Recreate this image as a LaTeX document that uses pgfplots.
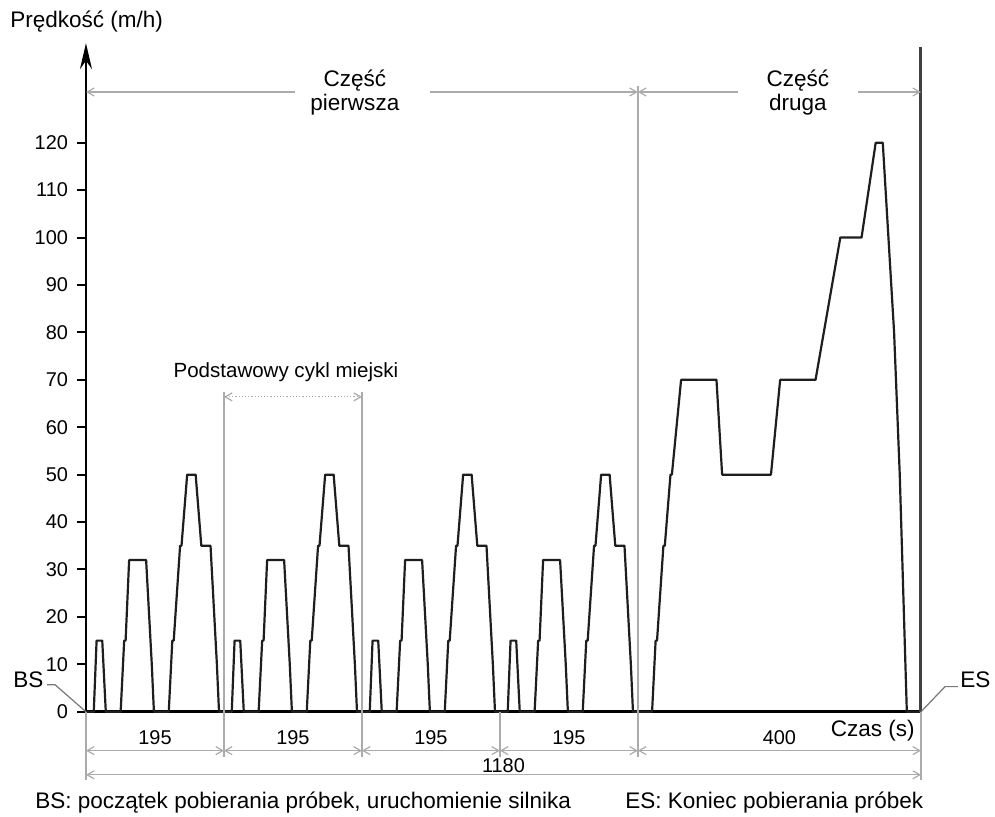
\documentclass[border=0pt]{standalone}
\usepackage{fontspec}
\setmainfont{Liberation Sans}
\usepackage{pgfplots}
\usepackage{pgfplotstable}
\pgfplotsset{compat=1.18}
\usetikzlibrary{arrows.meta}

\definecolor{dimgray}{HTML}{ABABAB}
\definecolor{curve}{HTML}{1E1E1E}
\newcommand{\txt}{\fontsize{11.3}{13.5}\selectfont}
\newcommand{\num}{\fontsize{10}{12}\selectfont}

\pgfplotstableread{
t v
0 0
11 0
15 15
23 15
28 0
49 0
54 15
56 15
61 32
85 32
93 10
96 0
117 0
122 15
124 15
133 35
135 35
143 50
155 50
163 35
176 35
185 10
188 0
195 0
}\ececycle

\tikzset{dim/.style={dimgray, line width=0.6bp},
         dimarr/.style={dim, arrows={Straight Barb[length=3.5bp,width=4bp]-Straight Barb[length=3.5bp,width=4bp]}}}

\begin{document}
\begin{tikzpicture}
\begin{axis}[
    scale only axis,
    width=417.5bp, height=334.3bp,
    xmin=0, xmax=1180,
    ymin=0, ymax=141,
    axis lines=left,
    x axis line style={-, line width=1.4bp},
    y axis line style={-{Stealth[length=13bp,width=6bp]}, line width=1.3bp},
    xtick=\empty,
    ytick={0,10,...,120},
    tick align=outside,
    major tick length=4.5bp,
    tick style={black, line width=1bp},
    yticklabel style={font=\fontsize{10}{12}\selectfont, xshift=-1bp},
    /pgf/number format/assume math mode=true,
    clip=false,
]
% ECE-15 urban cycle, four times
\pgfplotsinvokeforeach{0,195,390,585}{
  \addplot[curve, line width=1.1bp, line join=round]
    table[x expr=\thisrow{t}+#1, y=v] {\ececycle};
}
% EUDC extra-urban part
\addplot[curve, line width=1.1bp, line join=round] coordinates {
  (780,0) (800,0) (805,15) (807,15) (816,35) (818,35) (826,50) (828,50)
  (841,70) (891,70) (899,50) (968,50) (981,70) (1031,70) (1066,100)
  (1096,100) (1116,120) (1126,120) (1142,80) (1150,50) (1160,0) (1180,0)
};

% right end line
\draw[black!75, line width=1.5bp] (1180,0) -- (1180,140.2);

% page size
\path (-121.5,-22.1) rectangle (1284.6,150.1);

% axis title
\node[anchor=west, inner sep=0pt] at (-107.4,145.5) {\txt Prędkość (m/h)};

% top dimension lines
\draw[dim, arrows={Straight Barb[length=3.5bp,width=4bp]-}] (0,130.7) -- (295.4,130.7);
\draw[dim, arrows={-Straight Barb[length=3.5bp,width=4bp]}] (486.2,130.7) -- (780,130.7);
\draw[dim, arrows={Straight Barb[length=3.5bp,width=4bp]-}] (780,130.7) -- (921.4,130.7);
\draw[dim, arrows={-Straight Barb[length=3.5bp,width=4bp]}] (1091,130.7) -- (1180,130.7);
\node[align=center, inner sep=0pt, font=\txt] at (380,130.5) {Część\\[-1.5bp]pierwsza};
\node[align=center, inner sep=0pt, font=\txt] at (1006,130.5) {Część\\[-1.5bp]druga};

% vertical extension lines
\draw[dim] (780,132) -- (780,-9.5);
\draw[dim] (195,67.5) -- (195,-9.5);
\draw[dim] (390,67.5) -- (390,-9.5);
\draw[dim] (585,0) -- (585,-9.5);
\draw[dim] (0,0) -- (0,-14.3);
\draw[dim] (1180,0) -- (1180,-14.3);

% basic urban cycle bracket
\node[inner sep=0pt] at (282.6,71.7) {\fontsize{10.3}{12}\selectfont Podstawowy cykl miejski};
\draw[dimarr, densely dotted] (195,66.4) -- (390,66.4);

% bottom dimension lines
\draw[dimarr] (0,-8.2) -- (195,-8.2);
\draw[dimarr] (195,-8.2) -- (390,-8.2);
\draw[dimarr] (390,-8.2) -- (585,-8.2);
\draw[dimarr] (585,-8.2) -- (780,-8.2);
\draw[dimarr] (780,-8.2) -- (1180,-8.2);
\node[anchor=base, inner sep=0pt] at (97.5,-7.0) {\num 195};
\node[anchor=base, inner sep=0pt] at (292.5,-7.0) {\num 195};
\node[anchor=base, inner sep=0pt] at (487.5,-7.0) {\num 195};
\node[anchor=base, inner sep=0pt] at (682.5,-7.0) {\num 195};
\node[anchor=base, inner sep=0pt] at (980,-7.0) {\num 400};
\node[anchor=base east, inner sep=0pt] at (1171.6,-5.3) {\txt Czas (s)};
\draw[dimarr] (0,-13.3) -- (1180,-13.3);
\node[anchor=base, inner sep=0pt] at (590,-12.9) {\num 1180};

% BS / ES markers
\node[anchor=base west, inner sep=0pt] at (-103.2,5.1) {\txt BS};
\draw[dimgray!70!black, line width=0.6bp] (-55.1,5.7) -- (-43.8,5.7) -- (0,0);
\node[anchor=base west, inner sep=0pt] at (1235.2,5.1) {\txt ES};
\draw[dimgray!70!black, line width=0.6bp] (1180,0) -- (1214,5.3) -- (1232.3,5.3);

% captions
\node[anchor=base west, inner sep=0pt] at (-72.1,-20.5) {\txt BS: początek pobierania próbek, uruchomienie silnika};
\node[anchor=base west, inner sep=0pt] at (761.7,-20.5) {\txt ES: Koniec pobierania próbek};
\end{axis}
\end{tikzpicture}
\end{document}
